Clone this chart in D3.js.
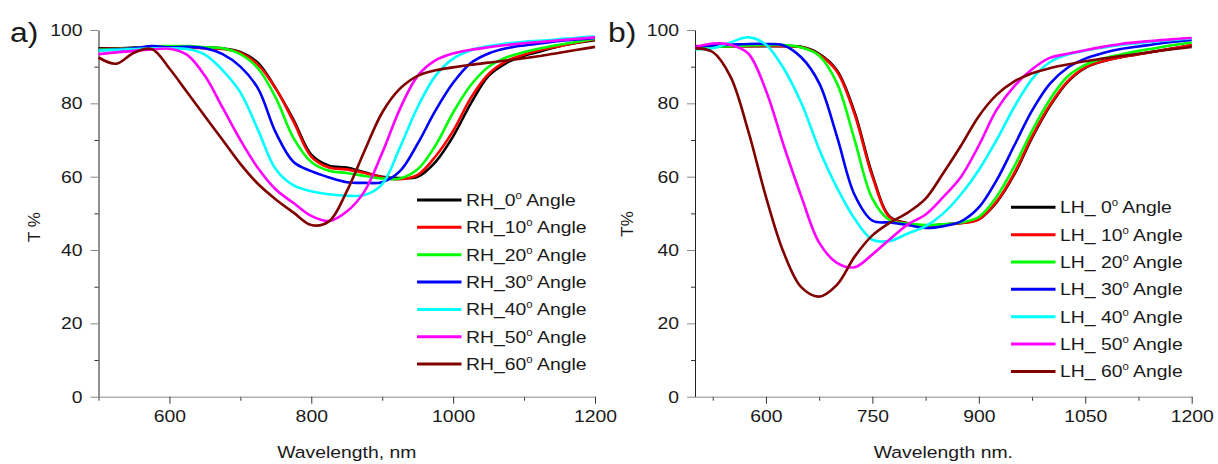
<!DOCTYPE html>
<html>
<head>
<meta charset="utf-8">
<script src="https://cdn.jsdelivr.net/npm/d3@7"></script>
<style>
  body { margin: 0; background: #fff; }
  text { font-family: "Liberation Sans", Arial, sans-serif; fill: #1a1a1a; }
</style>
</head>
<body>
<div id="chart"></div>
<script>
const width = 1218;
const height = 464;
const stretch = 1.14;   // the original figure is a little wider than tall

// wavelength grid (nm) shared by all curves
const wavelength = [500, 525, 550, 575, 600, 625, 650, 675, 700, 725, 750, 775, 800, 825, 850,
  875, 900, 925, 950, 975, 1000, 1025, 1050, 1075, 1100, 1125, 1150, 1175, 1200];

// a) RH transmission (%)
const rh0  = [95.0, 95.0, 95.2, 95.3, 95.3, 95.2, 95.2, 95.0, 94.0, 91.0, 84.0, 75.5, 66.0, 63.0, 62.5, 61.2, 60.0, 59.6, 60.0, 64.0, 71.0, 80.0, 87.5, 91.0, 93.0, 94.3, 95.6, 96.5, 97.2];
const rh10 = [94.8, 94.9, 95.0, 95.2, 95.3, 95.2, 95.0, 94.8, 93.8, 90.5, 84.0, 75.0, 65.5, 62.5, 62.0, 61.0, 59.8, 59.3, 60.5, 65.5, 72.5, 81.5, 88.0, 91.5, 93.3, 94.6, 95.6, 96.6, 97.5];
const rh20 = [94.7, 94.8, 95.0, 95.5, 95.6, 95.6, 95.3, 95.0, 93.4, 89.5, 81.5, 70.5, 64.0, 61.6, 61.0, 60.2, 59.5, 59.5, 62.0, 68.5, 77.5, 85.0, 90.0, 92.5, 94.0, 95.1, 96.0, 96.8, 97.6];
const rh30 = [94.5, 94.7, 95.0, 95.6, 95.3, 95.4, 95.0, 93.4, 90.0, 84.0, 72.0, 64.0, 61.5, 59.8, 58.5, 58.3, 58.5, 61.5, 69.0, 78.0, 85.6, 91.0, 93.6, 95.0, 95.8, 96.4, 97.0, 97.4, 97.8];
const rh40 = [94.4, 94.6, 94.8, 95.0, 95.0, 94.8, 93.3, 89.0, 83.0, 72.7, 62.0, 57.6, 56.0, 55.2, 54.8, 55.0, 58.0, 68.0, 79.0, 87.5, 92.2, 94.5, 95.6, 96.3, 96.8, 97.1, 97.5, 97.9, 98.2];
const rh50 = [93.4, 93.9, 94.3, 94.7, 94.9, 93.2, 87.5, 78.8, 70.0, 62.3, 56.5, 52.8, 49.3, 47.9, 50.5, 56.0, 66.5, 78.5, 87.5, 91.7, 93.6, 94.6, 95.3, 95.9, 96.4, 96.8, 97.2, 97.6, 98.0];
const rh60 = [92.5, 90.8, 93.8, 94.8, 89.5, 83.0, 76.5, 70.0, 63.5, 58.0, 53.8, 50.2, 46.8, 47.8, 56.0, 67.0, 77.5, 84.0, 87.5, 89.0, 89.8, 90.5, 91.1, 91.7, 92.3, 93.0, 93.8, 94.6, 95.4];

// b) LH transmission (%)
const lh0  = [95.6, 95.5, 95.5, 95.6, 95.6, 95.6, 95.4, 93.5, 89.0, 77.5, 60.5, 49.0, 47.3, 46.6, 47.0, 47.4, 48.4, 53.0, 60.6, 70.6, 79.2, 85.8, 89.7, 91.5, 92.6, 93.4, 94.2, 95.0, 95.8];
const lh10 = [95.5, 95.5, 95.6, 95.6, 95.7, 95.6, 95.3, 93.3, 88.7, 77.0, 60.0, 48.8, 47.2, 46.5, 47.0, 47.3, 48.3, 53.2, 61.0, 71.0, 79.5, 86.0, 89.8, 91.5, 92.6, 93.4, 94.2, 95.0, 95.9];
const lh20 = [95.3, 95.4, 95.6, 95.8, 95.9, 95.9, 95.2, 93.0, 85.5, 70.0, 54.0, 48.0, 47.2, 46.8, 47.0, 47.5, 49.0, 54.5, 62.8, 72.5, 81.0, 87.3, 90.5, 92.2, 93.3, 94.3, 95.1, 95.9, 96.6];
const lh30 = [95.4, 95.8, 96.0, 96.2, 96.2, 95.8, 92.5, 85.5, 71.0, 55.0, 48.0, 47.5, 46.8, 46.0, 46.5, 47.8, 51.6, 59.0, 68.5, 78.0, 85.3, 89.7, 92.2, 93.7, 94.8, 95.5, 96.2, 96.8, 97.3];
const lh40 = [94.7, 95.0, 96.6, 98.0, 96.0, 89.5, 80.0, 67.5, 57.0, 48.5, 42.8, 42.5, 44.5, 46.5, 50.0, 55.2, 61.8, 70.0, 79.0, 86.6, 91.2, 93.3, 94.4, 95.2, 95.9, 96.4, 96.9, 97.3, 97.7];
const lh50 = [95.3, 96.3, 96.0, 93.6, 83.5, 68.5, 54.5, 42.0, 36.5, 35.3, 38.8, 43.0, 47.0, 49.7, 54.5, 60.0, 68.5, 78.2, 84.7, 89.3, 92.4, 93.5, 94.5, 95.4, 96.2, 96.7, 97.1, 97.5, 97.8];
const lh60 = [95.0, 94.0, 87.3, 72.5, 54.5, 39.3, 29.8, 27.3, 30.5, 38.2, 44.0, 47.5, 50.2, 54.0, 61.0, 68.5, 76.5, 82.3, 86.0, 88.2, 89.6, 90.6, 91.5, 92.2, 92.9, 93.5, 94.2, 94.8, 95.4];

const angles = ['0', '10', '20', '30', '40', '50', '60'];
const lineColors = ['#000000', '#ff0000', '#00ff00', '#0000ff', '#00ffff', '#ff00ff', '#800000'];

const yMajorTicks = [0, 20, 40, 60, 80, 100];
const yMinorTicks = [10, 30, 50, 70, 90];
const xMajorTicksA = [600, 800, 1000, 1200];
const xMinorTicksA = [500, 700, 900, 1100];
const xMajorTicksB = [600, 750, 900, 1050, 1200];
const xMinorTicksB = [525, 675, 825, 975, 1125];

const svg = d3.select('#chart')
  .append('svg')
  .attr('width', width)
  .attr('height', height);

svg.append('rect')
  .attr('width', width)
  .attr('height', height)
  .attr('fill', '#fff');

const panels = [
  {
    left: 98.5, right: 595, tag: 'a)', tagX: 10,
    series: [rh0, rh10, rh20, rh30, rh40, rh50, rh60], prefix: 'RH_',
    xMajor: xMajorTicksA, xMinor: xMinorTicksA,
    xTitle: 'Wavelength, nm', yTitle: 'T %', yTitleX: 40, yTitleY: 227,
    legendX: 417, legendY: 200
  },
  {
    left: 695, right: 1191.7, tag: 'b)', tagX: 608,
    series: [lh0, lh10, lh20, lh30, lh40, lh50, lh60], prefix: 'LH_ ',
    xMajor: xMajorTicksB, xMinor: xMinorTicksB,
    xTitle: 'Wavelength nm.', yTitle: 'T%', yTitleX: 633, yTitleY: 224,
    legendX: 1011, legendY: 207.3
  }
];

const plotTop = 30;
const plotBottom = 396.7;

panels.forEach(drawPanel);

function drawPanel(p) {
  const g = svg.append('g');

  const x = d3.scaleLinear().domain([500, 1200]).range([p.left, p.right]);
  const y = d3.scaleLinear().domain([0, 100]).range([plotBottom, plotTop]);

  // minor ticks
  g.append('g')
    .attr('transform', `translate(${p.left},0)`)
    .call(d3.axisLeft(y).tickValues(yMinorTicks).tickSize(4).tickFormat(''))
    .call(a => a.select('.domain').remove())
    .selectAll('line').attr('stroke', '#333');

  g.append('g')
    .attr('transform', `translate(0,${plotBottom})`)
    .call(d3.axisBottom(x).tickValues(p.xMinor).tickSize(4).tickFormat(''))
    .call(a => a.select('.domain').remove())
    .selectAll('line').attr('stroke', '#333');

  // major ticks and labels
  const yAxis = g.append('g')
    .attr('transform', `translate(${p.left},0)`)
    .call(d3.axisLeft(y).tickValues(yMajorTicks).tickSize(8).tickPadding(6)
      .tickSizeOuter(0).tickFormat(d3.format('d')));
  yAxis.select('.domain').attr('stroke', '#222');
  yAxis.selectAll('line').attr('stroke', '#888');

  const xAxis = g.append('g')
    .attr('transform', `translate(0,${plotBottom})`)
    .call(d3.axisBottom(x).tickValues(p.xMajor).tickSize(7).tickPadding(6)
      .tickSizeOuter(0).tickFormat(d3.format('d')));
  xAxis.select('.domain').attr('stroke', '#888');
  xAxis.selectAll('line').attr('stroke', '#333');

  g.selectAll('.tick text')
    .attr('font-size', 17)
    .attr('fill', '#1a1a1a')
    .attr('font-family', '"Liberation Sans", Arial, sans-serif')
    .attr('transform', `scale(${stretch},1)`);

  // curves
  const line = d3.line()
    .x((d, i) => x(wavelength[i]))
    .y(d => y(d))
    .curve(d3.curveCatmullRom.alpha(0.5));

  g.selectAll('.curve')
    .data(p.series)
    .enter()
    .append('path')
    .attr('class', 'curve')
    .attr('d', line)
    .attr('fill', 'none')
    .attr('stroke', (d, i) => lineColors[i])
    .attr('stroke-width', 2.6)
    .attr('stroke-linejoin', 'round');

  // legend
  const legend = g.append('g')
    .attr('transform', `translate(${p.legendX},${p.legendY})`);

  const rows = legend.selectAll('.row')
    .data(angles)
    .enter()
    .append('g')
    .attr('class', 'row')
    .attr('transform', (d, i) => `translate(0,${i * 27.35})`);

  rows.append('line')
    .attr('x1', 0)
    .attr('x2', 44.5)
    .attr('stroke', (d, i) => lineColors[i])
    .attr('stroke-width', 3);

  const label = rows.append('text')
    .attr('transform', `translate(49,6) scale(${stretch},1)`)
    .attr('font-size', 17);
  label.append('tspan').text(d => p.prefix + d);
  label.append('tspan').attr('font-size', 10).attr('dy', -7).text('o');
  label.append('tspan').attr('dy', 7).text(' Angle');

  // titles
  g.append('text')
    .attr('transform', `translate(${(p.left + p.right) / 2},458) scale(${stretch},1)`)
    .attr('text-anchor', 'middle')
    .attr('font-size', 17)
    .text(p.xTitle);

  g.append('text')
    .attr('transform', `translate(${p.yTitleX},${p.yTitleY}) rotate(-90)`)
    .attr('text-anchor', 'middle')
    .attr('font-size', 17)
    .text(p.yTitle);

  g.append('text')
    .attr('transform', `translate(${p.tagX},42) scale(${stretch},1)`)
    .attr('font-size', 28)
    .text(p.tag);
}
</script>
</body>
</html>
